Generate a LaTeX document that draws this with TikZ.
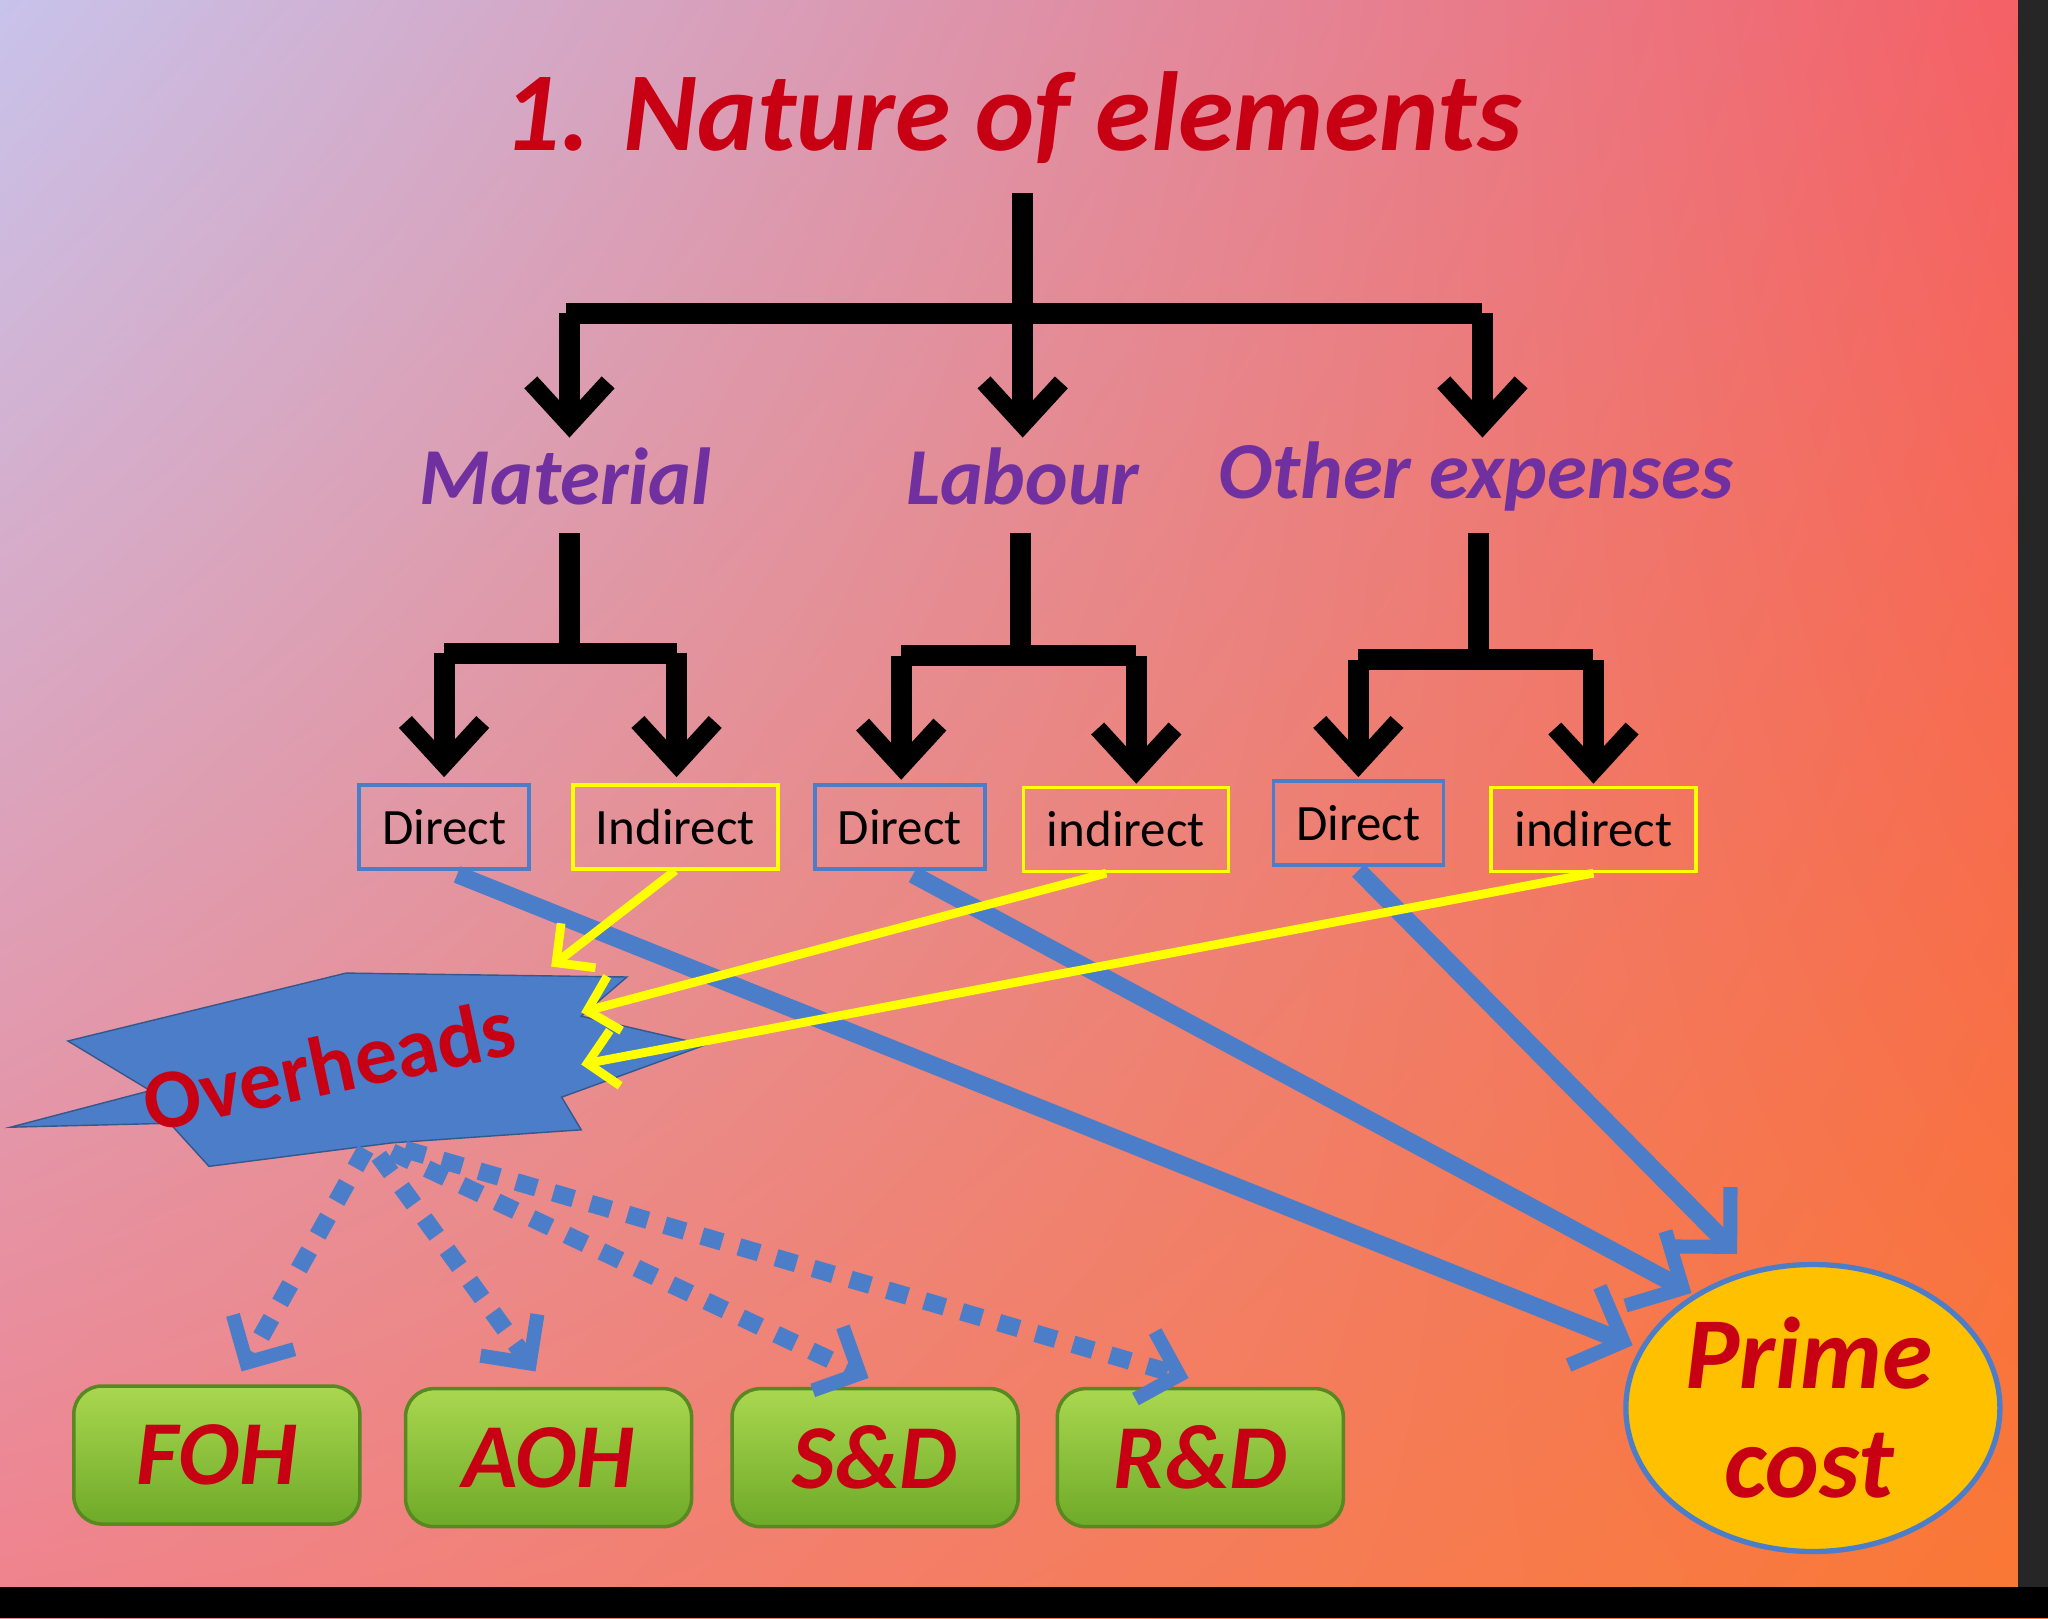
\documentclass[tikz,border=0pt]{standalone}
\usepackage{fontspec}
\setmainfont{Carlito}
\usetikzlibrary{arrows.meta,shadings,shapes.geometric}
\definecolor{bgA}{RGB}{200,195,235}
\definecolor{bgB}{RGB}{245,95,100}
\definecolor{bgC}{RGB}{240,130,140}
\definecolor{bgD}{RGB}{250,120,50}
\definecolor{ttl}{RGB}{200,0,20}
\definecolor{pur}{RGB}{112,48,160}
\definecolor{bl}{RGB}{75,125,200}
\definecolor{yl}{RGB}{255,255,0}
\definecolor{gA}{RGB}{170,215,80}
\definecolor{gB}{RGB}{110,170,40}
\definecolor{pc}{RGB}{255,192,0}
\tikzset{
  x=0.01306cm,y=-0.01306cm,
  tree/.style={line width=6pt,black,-{Straight Barb[length=12pt,width=22pt,line width=5pt]}},
  stem/.style={line width=6pt,black},
  ttlt/.style={font=\bfseries\itshape\fontsize{32}{36}\selectfont,text=ttl},
  cat/.style={font=\bfseries\itshape\fontsize{23}{27}\selectfont,text=pur},
  box/.style={draw=#1,line width=1pt,minimum width=1.7cm,minimum height=0.84cm,font=\fontsize{14.5}{17}\selectfont,inner sep=0pt},
  yarr/.style={yl,line width=2.5pt,-{Straight Barb[length=8pt,width=16pt,line width=2.5pt]}},
  barr/.style={bl,line width=5pt,-{Straight Barb[length=12pt,width=24pt,line width=4pt]}},
  darr/.style={bl,line width=5pt,dash pattern=on 6pt off 5pt,-{Straight Barb[length=10pt,width=20pt,line width=4pt]}},
  gbox/.style={rounded corners=8pt,top color=gA,bottom color=gB,draw=gB!80!black,line width=1pt,minimum width=2.86cm,minimum height=1.38cm,font=\bfseries\itshape\fontsize{26}{30}\selectfont,text=ttl},
}
\begin{document}
\begin{tikzpicture}
\useasboundingbox (0,0) rectangle (1568,1239);
\shade[upper left=bgA,upper right=bgB,lower left=bgC,lower right=bgD] (0,0) rectangle (1568,1239);
\fill[black] (0,1215) rectangle (1568,1239);
\fill[black!85] (1545,0) rectangle (1568,1215);
\node[ttlt] (title) at (775,90) {1. Nature of elements};
% top tree
\draw[stem] (783,148) -- (783,240);
\draw[stem] (433,240) -- (1135,240);
\draw[tree] (436,240) -- (436,335);
\draw[tree] (783,240) -- (783,335);
\draw[tree] (1135,240) -- (1135,335);
\node[cat] (mat) at (433,365) {Material};
\node[cat] (lab) at (783,365) {Labour};
\node[cat] (oth) at (1130,365) {Other expenses};
% sub trees
\draw[stem] (436,408) -- (436,500);
\draw[stem] (340,500) -- (518,500);
\draw[tree] (340,500) -- (340,595);
\draw[tree] (518,500) -- (518,595);
\draw[stem] (781,408) -- (781,502);
\draw[stem] (690,502) -- (870,502);
\draw[tree] (690,502) -- (690,597);
\draw[tree] (870,502) -- (870,600);
\draw[stem] (1132,408) -- (1132,505);
\draw[stem] (1040,505) -- (1220,505);
\draw[tree] (1040,505) -- (1040,595);
\draw[tree] (1220,505) -- (1220,600);
% boxes
\node[box=bl] (d1) at (340,633) {Direct};
\node[box=yl,minimum width=2.05cm] (i1) at (517,633) {Indirect};
\node[box=bl] (d2) at (689,633) {Direct};
\node[box=yl,minimum width=2.05cm] (i2) at (862,635) {indirect};
\node[box=bl] (d3) at (1040,630) {Direct};
\node[box=yl,minimum width=2.05cm] (i3) at (1220,635) {indirect};
% overheads
\fill[bl,draw=bl!70!black] (8,863) -- (115,835) -- (52,797) -- (265,745) -- (480,748) -- (445,778) -- (540,800) -- (430,840) -- (445,865) -- (300,875) -- (160,893) -- (130,860) -- cycle;
\node[font=\bfseries\fontsize{24}{28}\selectfont,text=ttl,rotate=12] (ovh) at (252,815) {Overheads};
\coordinate (oA) at (422,740);
\coordinate (oB) at (445,775);
\coordinate (oC) at (445,815);
\coordinate (oD) at (280,880);
% prime cost
\node[ellipse,fill=pc,draw=bl,line width=1.5pt,minimum width=3.74cm,minimum height=2.87cm] (pc) at (1388,1078) {};
\node[font=\bfseries\itshape\fontsize{29}{31}\selectfont,text=ttl,align=center] (pct) at (1385,1078) {Prime\\cost};
% arrows
\draw[barr] (d1.south) ++(10,3) -- (1250,1030);
\draw[barr] (d2.south) ++(10,3) -- (1295,990);
\draw[barr] (d3.south) ++(0,3) -- (1330,960);
\draw[yarr] (i1.south) -- (oA);
\draw[yarr] (i2.south) ++(-15,0) -- (oB);
\draw[yarr] (i3.south) -- (oC);
% green boxes
\node[gbox] (foh) at (166,1114) {FOH};
\node[gbox] (aoh) at (420,1116) {AOH};
\node[gbox] (sd) at (670,1116) {S\&D};
\node[gbox] (rd) at (919,1116) {R\&D};
\draw[darr] (oD) -- (185,1050);
\draw[darr] (290,885) -- (410,1050);
\draw[darr] (300,882) -- (665,1055);
\draw[darr] (310,880) -- (910,1055);
\end{tikzpicture}
\end{document}
